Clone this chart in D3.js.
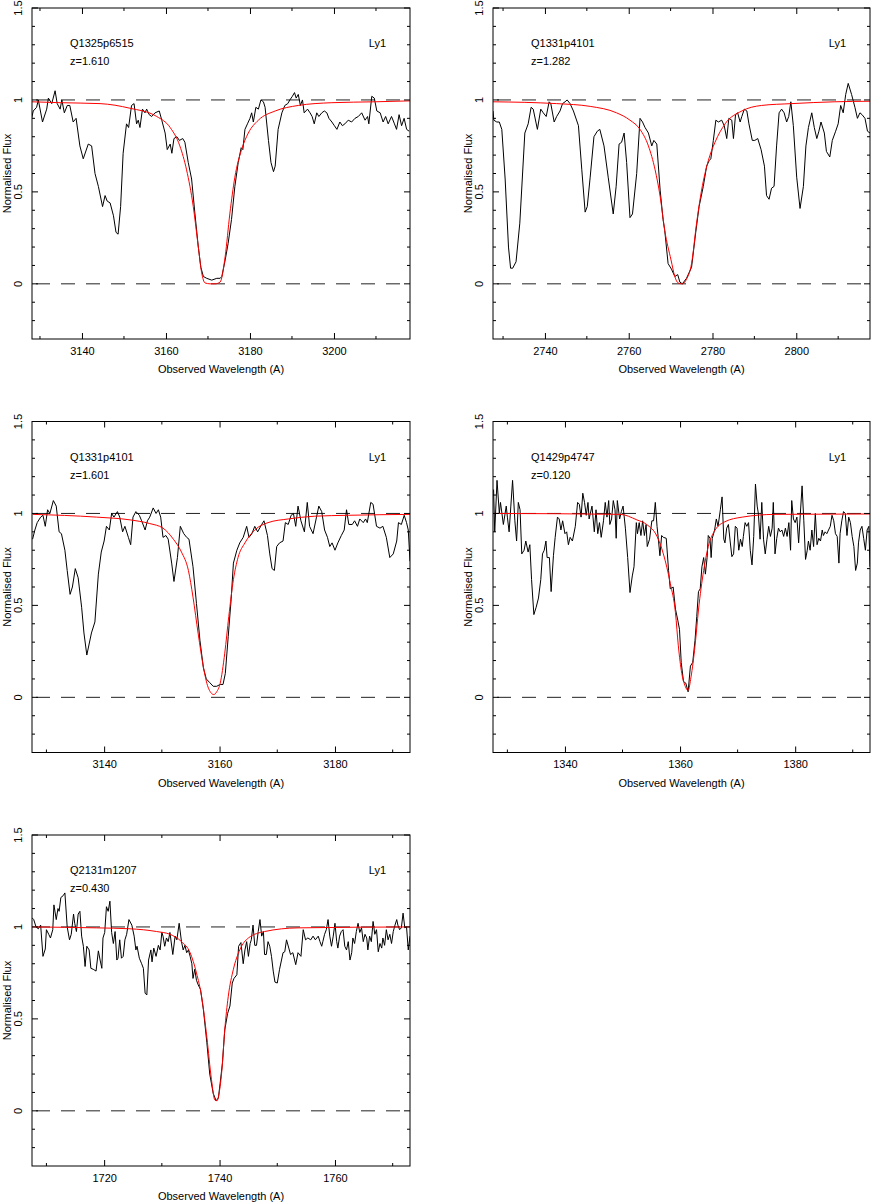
<!DOCTYPE html>
<html><head><meta charset="utf-8">
<script src="https://cdn.jsdelivr.net/npm/d3@7"></script>
<style>body{margin:0;background:#fff}svg{display:block}</style>
</head><body>
<svg id="c" width="872" height="1203"></svg>
<script>
// ---------- data ----------
const qsoNames = ["Q1325p6515","Q1331p4101","Q1331p4101","Q1429p4747","Q2131m1207"];
const redshifts = ["z=1.610","z=1.282","z=1.601","z=0.120","z=0.430"];
const lineLabels = ["Ly1","Ly1","Ly1","Ly1","Ly1"];
const xDomains = [[3128.1,3218.1],[2727.6,2817.6],[3127.5,3193.0],[1327.5,1393.0],[1707.5,1773.0]];
const xMajorTicks = [[3140,3160,3180,3200],[2740,2760,2780,2800],[3140,3160,3180],[1340,1360,1380],[1720,1740,1760]];
const xMinorTicks = [[3130,3150,3170,3190,3210],[2730,2750,2770,2790,2810],[3130,3150,3170,3190],[1330,1350,1370,1390],[1710,1730,1750,1770]];
const yDomain = [-0.3,1.5];
const yMajorTicks = [0,0.5,1,1.5];
const yMinorTicks = [-0.2,-0.1,0.1,0.2,0.3,0.4,0.6,0.7,0.8,0.9,1.1,1.2,1.3,1.4];
const refLevels = [0,1];

const spec1 = [[3128.0,0.90],[3128.4,0.94],[3129.2,0.96],[3129.6,1.00],[3130.6,0.88],[3131.6,0.95],[3132.0,1.01],[3132.8,0.98],[3133.6,1.05],[3134.1,0.98],[3134.8,0.95],[3135.2,1.00],[3135.8,0.93],[3136.5,0.97],[3137.1,0.97],[3137.9,0.88],[3138.6,0.90],[3139.5,0.75],[3140.3,0.68],[3141.5,0.76],[3142.3,0.75],[3143.1,0.60],[3143.9,0.53],[3144.9,0.42],[3145.5,0.48],[3146.0,0.45],[3146.7,0.44],[3147.5,0.37],[3148.1,0.28],[3148.6,0.27],[3149.2,0.42],[3149.8,0.71],[3150.6,0.87],[3151.1,0.85],[3151.8,0.97],[3152.4,0.98],[3153.0,0.87],[3153.4,0.89],[3153.8,0.85],[3154.4,0.95],[3155.0,0.93],[3155.4,0.95],[3156.0,0.92],[3156.6,0.91],[3157.4,0.93],[3158.4,0.94],[3159.0,0.89],[3159.8,0.82],[3160.3,0.73],[3161.0,0.76],[3161.4,0.71],[3161.9,0.79],[3162.6,0.80],[3163.2,0.78],[3164.0,0.79],[3164.5,0.77],[3165.3,0.66],[3166.1,0.57],[3166.9,0.38],[3167.7,0.20],[3168.3,0.09],[3168.9,0.04],[3169.7,0.03],[3170.9,0.02],[3172.1,0.03],[3172.9,0.03],[3173.3,0.04],[3174.1,0.13],[3174.8,0.22],[3175.6,0.35],[3176.4,0.53],[3177.2,0.66],[3177.9,0.74],[3178.3,0.73],[3178.8,0.84],[3179.4,0.87],[3180.0,0.90],[3180.4,0.93],[3180.8,0.88],[3181.4,0.96],[3182.0,0.95],[3182.6,1.00],[3183.2,0.99],[3183.6,0.96],[3184.4,0.78],[3185.0,0.66],[3185.6,0.61],[3186.0,0.64],[3186.7,0.84],[3187.6,0.93],[3188.3,0.97],[3189.0,0.98],[3189.5,1.00],[3190.1,1.02],[3190.6,1.04],[3191.0,1.01],[3191.5,1.03],[3192.0,0.97],[3192.5,1.00],[3192.9,0.93],[3193.7,0.95],[3194.3,0.93],[3194.8,0.91],[3195.3,0.87],[3195.9,0.93],[3196.4,0.91],[3197.1,0.93],[3197.7,0.94],[3198.3,0.93],[3198.8,0.90],[3199.5,0.88],[3200.1,0.86],[3200.7,0.84],[3201.4,0.88],[3202.0,0.86],[3202.6,0.87],[3203.4,0.89],[3204.2,0.88],[3205.0,0.90],[3205.8,0.91],[3206.6,0.93],[3207.4,0.89],[3208.0,0.91],[3208.3,0.87],[3209.0,1.02],[3209.6,1.01],[3210.2,0.94],[3211.0,0.93],[3211.7,0.88],[3212.3,0.91],[3212.9,0.87],[3213.7,0.91],[3214.4,0.87],[3214.9,0.84],[3215.5,0.92],[3216.1,0.86],[3216.7,0.90],[3217.3,0.84],[3217.9,0.83]];
const fit1 = [[3128.1,0.99],[3134.8,0.985],[3144.3,0.98],[3151.4,0.955],[3157.8,0.91],[3161.0,0.85],[3163.3,0.75],[3164.9,0.62],[3166.5,0.42],[3167.7,0.20],[3168.5,0.06],[3169.3,0.005],[3170.5,0.0],[3171.7,0.0],[3172.9,0.01],[3174.1,0.15],[3175.2,0.38],[3176.4,0.58],[3178.0,0.73],[3179.6,0.82],[3182.0,0.89],[3186.0,0.94],[3191.5,0.97],[3199.5,0.985],[3209.8,0.99],[3218.1,0.995]];

const spec2 = [[2727.6,0.94],[2727.8,0.89],[2728.5,0.88],[2729.1,0.88],[2729.7,0.84],[2730.5,0.57],[2731.3,0.20],[2731.8,0.085],[2732.3,0.085],[2733.1,0.12],[2734.0,0.33],[2735.2,0.82],[2736.0,0.87],[2736.7,0.96],[2737.2,0.95],[2738.2,0.84],[2739.0,0.95],[2739.6,0.93],[2740.3,0.91],[2741.0,0.99],[2741.4,0.98],[2742.2,0.88],[2742.8,0.91],[2743.6,0.94],[2744.2,0.98],[2744.8,0.99],[2745.3,1.00],[2746.0,0.98],[2746.8,0.94],[2748.0,0.86],[2748.8,0.62],[2749.6,0.39],[2750.1,0.42],[2750.8,0.58],[2751.7,0.80],[2752.5,0.83],[2753.1,0.84],[2754.1,0.75],[2755.1,0.58],[2756.3,0.38],[2757.0,0.53],[2757.7,0.76],[2758.3,0.77],[2758.9,0.82],[2759.5,0.66],[2760.3,0.36],[2760.9,0.38],[2761.9,0.60],[2762.7,0.90],[2763.3,0.88],[2763.9,0.85],[2764.7,0.82],[2765.5,0.75],[2766.0,0.78],[2766.7,0.76],[2767.5,0.51],[2768.2,0.35],[2768.6,0.29],[2769.4,0.11],[2770.2,0.08],[2771.0,0.04],[2771.7,0.05],[2772.2,0.01],[2772.8,0.0],[2773.8,0.03],[2775.0,0.09],[2776.0,0.28],[2776.8,0.42],[2777.8,0.53],[2778.6,0.64],[2779.2,0.67],[2779.6,0.68],[2780.2,0.78],[2780.8,0.89],[2781.4,0.88],[2782.2,0.89],[2782.8,0.86],[2783.4,0.79],[2783.9,0.90],[2784.6,0.89],[2785.0,0.79],[2785.5,0.92],[2786.0,0.93],[2786.6,0.88],[2787.0,0.91],[2787.6,0.95],[2788.2,0.94],[2788.7,0.87],[2789.5,0.78],[2790.1,0.78],[2790.8,0.79],[2791.6,0.73],[2792.4,0.64],[2792.9,0.48],[2793.5,0.46],[2794.1,0.52],[2794.7,0.53],[2795.3,0.75],[2795.9,0.93],[2796.5,0.95],[2797.1,0.93],[2797.7,0.88],[2798.2,0.91],[2798.7,0.99],[2799.3,0.86],[2800.1,0.58],[2800.9,0.41],[2801.7,0.53],[2802.3,0.75],[2802.9,0.85],[2803.7,0.93],[2804.3,0.85],[2804.9,0.79],[2805.4,0.83],[2805.9,0.88],[2806.7,0.82],[2807.2,0.72],[2808.0,0.69],[2808.6,0.78],[2809.4,0.83],[2810.0,0.87],[2810.6,0.97],[2811.2,0.93],[2811.8,1.03],[2812.4,1.09],[2813.2,1.03],[2814.0,0.96],[2814.6,0.90],[2815.2,0.93],[2815.7,0.92],[2816.4,0.90],[2817.0,0.83],[2817.6,0.82]];
const fit2 = [[2727.6,0.99],[2742.8,0.98],[2750.8,0.965],[2757.1,0.93],[2760.3,0.89],[2762.7,0.84],[2764.7,0.75],[2766.3,0.62],[2767.5,0.475],[2768.6,0.29],[2770.1,0.13],[2771.0,0.04],[2771.8,0.005],[2772.8,0.0],[2773.8,0.025],[2775.0,0.11],[2776.2,0.33],[2777.4,0.51],[2779.0,0.67],[2780.6,0.77],[2783.0,0.87],[2787.0,0.94],[2791.7,0.97],[2798.9,0.98],[2809.2,0.99],[2817.6,0.993]];

const spec3 = [[3127.6,0.86],[3128.0,0.91],[3128.4,0.95],[3129.0,0.98],[3129.4,0.99],[3129.8,0.93],[3130.2,1.02],[3130.6,1.00],[3131.2,1.07],[3131.7,1.04],[3132.2,0.90],[3132.6,0.89],[3133.2,0.80],[3133.6,0.69],[3134.1,0.56],[3134.5,0.60],[3135.0,0.70],[3135.5,0.65],[3136.1,0.49],[3136.5,0.35],[3137.0,0.23],[3137.4,0.29],[3137.8,0.35],[3138.4,0.41],[3139.0,0.67],[3139.5,0.79],[3140.0,0.85],[3140.4,0.93],[3140.9,0.91],[3141.3,1.00],[3141.7,0.98],[3142.3,1.01],[3142.7,0.98],[3143.2,0.90],[3143.6,0.93],[3144.2,0.87],[3144.6,0.83],[3145.0,0.98],[3145.5,1.01],[3146.1,0.99],[3146.5,0.96],[3147.1,0.91],[3147.5,0.96],[3147.9,0.98],[3148.5,1.03],[3149.0,1.00],[3149.4,1.02],[3149.8,0.98],[3150.2,0.87],[3150.7,0.88],[3151.1,0.86],[3151.7,0.73],[3152.1,0.63],[3152.7,0.76],[3153.2,0.93],[3153.8,0.89],[3154.3,0.87],[3154.7,0.86],[3155.4,0.71],[3156.0,0.51],[3156.6,0.31],[3157.2,0.16],[3157.7,0.10],[3158.3,0.08],[3158.9,0.06],[3159.5,0.06],[3160.1,0.07],[3160.6,0.07],[3161.0,0.13],[3161.5,0.33],[3162.0,0.53],[3162.4,0.73],[3163.0,0.80],[3163.5,0.84],[3164.1,0.87],[3164.7,0.93],[3165.1,0.87],[3165.6,0.89],[3166.1,0.93],[3166.6,0.90],[3167.3,0.94],[3167.7,0.96],[3168.3,0.88],[3168.7,0.78],[3169.1,0.70],[3169.5,0.69],[3169.9,0.82],[3170.4,0.84],[3171.0,0.85],[3171.4,0.95],[3171.9,0.94],[3172.4,0.99],[3172.8,1.00],[3173.2,0.93],[3173.6,1.04],[3174.1,0.96],[3174.7,0.90],[3175.2,1.06],[3175.6,0.93],[3176.2,0.89],[3176.8,0.98],[3177.2,1.04],[3177.7,1.01],[3178.2,0.91],[3178.7,0.87],[3179.1,0.82],[3179.5,0.84],[3180.0,0.80],[3180.5,0.84],[3181.1,0.88],[3181.6,0.91],[3182.0,1.02],[3182.4,0.94],[3183.0,0.94],[3183.4,0.96],[3183.9,0.93],[3184.3,0.97],[3184.9,0.95],[3185.3,0.97],[3185.6,0.95],[3186.2,1.06],[3186.6,1.05],[3187.2,0.93],[3187.8,0.92],[3188.3,0.93],[3188.9,0.87],[3189.5,0.76],[3190.1,0.78],[3190.7,0.85],[3191.0,0.95],[3191.5,0.94],[3192.0,0.99],[3192.4,0.95],[3192.7,0.91],[3193.0,0.74]];
const fit3 = [[3127.6,0.995],[3138.7,0.98],[3144.5,0.965],[3147.9,0.945],[3150.2,0.92],[3152.0,0.86],[3153.4,0.79],[3154.6,0.69],[3155.4,0.545],[3156.3,0.345],[3157.2,0.165],[3158.0,0.056],[3159.0,0.015],[3159.5,0.03],[3160.1,0.075],[3160.9,0.24],[3161.6,0.44],[3162.4,0.64],[3163.2,0.76],[3164.4,0.84],[3166.1,0.91],[3168.4,0.95],[3171.9,0.97],[3176.5,0.985],[3182.3,0.99],[3193.0,0.995]];

const spec4 = [[1327.6,1.13],[1327.8,0.90],[1328.2,1.18],[1328.6,1.00],[1328.8,1.06],[1329.3,0.94],[1329.8,1.04],[1330.0,0.98],[1330.3,0.90],[1330.6,1.04],[1330.9,1.18],[1331.3,0.96],[1331.6,0.85],[1331.9,1.06],[1332.2,1.02],[1332.5,0.78],[1332.9,0.80],[1333.2,0.85],[1333.6,0.79],[1333.9,0.83],[1334.2,0.64],[1334.6,0.45],[1335.0,0.49],[1335.4,0.54],[1335.8,0.64],[1336.1,0.78],[1336.4,0.80],[1336.7,0.85],[1336.9,0.76],[1337.3,0.76],[1337.6,0.575],[1338.0,0.77],[1338.3,0.87],[1338.7,0.98],[1339.0,0.97],[1339.3,0.91],[1339.6,0.96],[1340.0,0.89],[1340.3,0.90],[1340.6,0.83],[1340.9,0.87],[1341.3,0.85],[1341.8,0.93],[1342.2,1.06],[1342.5,1.05],[1342.8,0.98],[1343.1,1.11],[1343.4,1.06],[1343.7,0.99],[1344.0,1.06],[1344.2,0.97],[1344.7,1.04],[1345.1,0.90],[1345.4,1.02],[1345.7,0.89],[1346.0,0.95],[1346.3,0.87],[1346.7,0.96],[1347.0,1.06],[1347.3,0.98],[1347.6,1.07],[1347.8,0.94],[1348.1,0.97],[1348.4,1.07],[1348.7,1.02],[1348.9,0.865],[1349.1,1.07],[1349.5,0.97],[1349.8,1.01],[1350.1,1.04],[1350.5,0.92],[1350.9,0.76],[1351.3,0.57],[1351.7,0.66],[1352.0,0.71],[1352.4,0.95],[1352.6,0.89],[1352.9,0.95],[1353.2,0.88],[1353.5,0.96],[1353.8,0.88],[1354.1,0.94],[1354.3,0.82],[1354.7,0.86],[1355.1,0.96],[1355.4,0.96],[1355.7,1.06],[1356.0,0.93],[1356.2,0.87],[1356.5,0.77],[1356.8,0.88],[1357.1,0.87],[1357.6,0.865],[1358.0,0.69],[1358.3,0.59],[1358.8,0.60],[1359.2,0.48],[1359.6,0.42],[1359.9,0.37],[1360.2,0.19],[1360.6,0.086],[1361.0,0.077],[1361.4,0.03],[1361.8,0.17],[1362.2,0.19],[1362.6,0.31],[1362.9,0.44],[1363.2,0.575],[1363.5,0.59],[1363.8,0.71],[1364.1,0.76],[1364.4,0.67],[1364.7,0.76],[1364.9,0.88],[1365.2,0.865],[1365.4,0.76],[1365.6,0.865],[1366.0,0.91],[1366.3,0.97],[1366.6,0.93],[1367.0,1.02],[1367.3,1.09],[1367.6,0.86],[1367.8,0.84],[1368.1,0.92],[1368.4,0.94],[1368.7,0.85],[1369.0,0.765],[1369.3,0.78],[1369.6,0.93],[1369.9,0.92],[1370.2,0.80],[1370.5,0.86],[1370.8,0.82],[1371.0,0.875],[1371.3,0.95],[1371.6,0.93],[1371.9,0.95],[1372.2,0.80],[1372.5,0.72],[1372.8,0.875],[1373.1,1.16],[1373.4,1.04],[1373.6,1.00],[1373.9,0.86],[1374.2,1.06],[1374.5,0.86],[1374.8,0.78],[1375.1,0.86],[1375.4,0.93],[1375.7,0.875],[1376.0,0.92],[1376.2,1.06],[1376.5,0.78],[1376.8,0.865],[1377.1,0.92],[1377.4,0.90],[1377.7,0.91],[1378.0,0.875],[1378.3,0.92],[1378.6,0.875],[1378.9,0.95],[1379.2,0.80],[1379.4,1.07],[1379.7,0.97],[1380.0,0.95],[1380.3,0.98],[1380.6,0.84],[1380.9,1.00],[1381.2,1.15],[1381.5,0.96],[1381.8,0.75],[1382.1,0.80],[1382.3,0.85],[1382.6,0.80],[1382.9,0.91],[1383.2,0.82],[1383.5,1.00],[1383.8,0.83],[1384.1,0.865],[1384.4,0.85],[1384.7,0.91],[1384.9,0.88],[1385.2,0.90],[1385.5,0.89],[1385.8,0.91],[1386.1,0.93],[1386.4,0.99],[1386.7,0.96],[1387.0,0.89],[1387.3,0.875],[1387.6,0.73],[1387.8,0.89],[1388.1,0.96],[1388.4,1.01],[1388.7,1.00],[1389.0,0.88],[1389.3,0.98],[1389.6,0.95],[1389.9,0.875],[1390.2,0.82],[1390.5,0.69],[1390.8,0.73],[1391.0,0.84],[1391.3,0.91],[1391.6,0.93],[1391.9,0.865],[1392.2,0.80],[1392.5,0.91],[1392.8,0.93],[1393.0,0.71]];
const fit4 = [[1327.5,1.0],[1349.6,0.995],[1352.5,0.965],[1354.2,0.94],[1356.0,0.875],[1357.1,0.78],[1358.3,0.62],[1359.2,0.46],[1359.7,0.28],[1360.3,0.13],[1360.9,0.06],[1361.4,0.037],[1361.9,0.11],[1362.6,0.28],[1363.2,0.475],[1364.1,0.69],[1364.9,0.82],[1366.1,0.91],[1367.8,0.955],[1370.8,0.98],[1376.5,0.995],[1393.0,0.997]];

const spec5 = [[1707.5,1.05],[1707.8,1.04],[1708.2,1.00],[1708.6,0.99],[1709.0,1.01],[1709.4,0.84],[1709.8,0.88],[1710.0,0.985],[1710.4,0.96],[1710.7,0.94],[1711.1,0.985],[1711.3,1.12],[1711.7,1.04],[1712.0,1.10],[1712.2,1.085],[1712.5,1.16],[1712.9,1.17],[1713.2,1.185],[1713.6,1.00],[1714.0,0.93],[1714.3,0.96],[1714.7,1.07],[1714.9,1.02],[1715.2,0.975],[1715.5,1.07],[1715.8,1.085],[1716.1,0.95],[1716.4,0.895],[1716.7,0.785],[1717.0,0.895],[1717.4,0.875],[1717.7,0.775],[1718.1,0.77],[1718.6,0.76],[1719.0,0.87],[1719.3,0.82],[1719.6,0.775],[1719.8,0.94],[1720.1,0.97],[1720.4,1.11],[1720.7,1.085],[1721.0,1.14],[1721.3,0.97],[1721.6,0.91],[1721.9,0.975],[1722.2,0.82],[1722.4,0.83],[1722.7,0.93],[1723.0,0.83],[1723.3,0.84],[1723.6,0.93],[1723.9,0.96],[1724.3,1.04],[1724.8,1.01],[1725.2,0.95],[1725.5,0.875],[1725.7,0.895],[1726.1,0.83],[1726.5,0.80],[1726.8,0.775],[1727.1,0.64],[1727.4,0.63],[1727.7,0.82],[1728.1,0.875],[1728.3,0.81],[1728.6,0.885],[1729.0,0.84],[1729.4,0.90],[1729.7,0.875],[1730.0,0.97],[1730.2,0.95],[1730.5,0.895],[1730.8,0.94],[1731.1,0.92],[1731.4,0.97],[1731.9,0.85],[1732.3,0.95],[1732.6,0.93],[1733.0,1.02],[1733.4,0.92],[1733.7,0.875],[1734.0,0.90],[1734.3,0.86],[1734.6,0.875],[1734.9,0.84],[1735.2,0.80],[1735.4,0.72],[1735.7,0.77],[1736.0,0.71],[1736.3,0.685],[1736.7,0.66],[1737.2,0.55],[1737.8,0.37],[1738.3,0.20],[1738.9,0.095],[1739.4,0.055],[1739.8,0.07],[1740.1,0.15],[1740.5,0.26],[1740.9,0.44],[1741.4,0.53],[1741.8,0.57],[1742.2,0.695],[1742.5,0.72],[1743.0,0.74],[1743.3,0.895],[1743.7,0.915],[1744.1,0.80],[1744.4,0.875],[1744.7,0.92],[1745.0,0.84],[1745.3,0.91],[1745.5,0.93],[1745.8,1.01],[1746.1,0.90],[1746.4,0.90],[1746.7,0.975],[1747.0,1.04],[1747.3,0.95],[1747.6,0.975],[1747.8,0.85],[1748.1,0.85],[1748.4,0.92],[1748.7,0.895],[1749.0,0.84],[1749.3,0.76],[1749.6,0.70],[1750.0,0.695],[1750.4,0.77],[1751.0,0.86],[1751.3,0.865],[1751.6,0.93],[1752.0,0.885],[1752.3,0.85],[1752.7,0.86],[1753.2,0.795],[1753.6,0.86],[1754.1,0.84],[1754.5,0.985],[1754.9,0.93],[1755.3,0.94],[1755.8,0.93],[1756.2,0.95],[1756.6,0.93],[1757.1,0.95],[1757.4,0.92],[1757.7,0.895],[1757.9,0.92],[1758.2,0.96],[1758.5,0.985],[1758.8,1.04],[1759.1,0.95],[1759.4,0.895],[1759.7,0.95],[1760.0,1.02],[1760.3,0.92],[1760.5,0.885],[1760.8,0.95],[1761.1,0.975],[1761.4,0.985],[1761.7,0.895],[1762.0,0.875],[1762.3,0.92],[1762.6,0.82],[1762.9,0.86],[1763.1,0.94],[1763.4,0.91],[1763.7,0.975],[1764.0,1.02],[1764.3,0.97],[1764.6,0.995],[1764.9,0.92],[1765.2,0.96],[1765.5,0.94],[1765.7,0.875],[1766.0,0.95],[1766.3,0.92],[1766.6,1.03],[1766.9,0.96],[1767.2,0.985],[1767.5,0.865],[1767.8,0.91],[1768.1,0.885],[1768.3,0.94],[1768.6,0.90],[1768.9,0.985],[1769.2,0.93],[1769.5,0.96],[1769.8,0.91],[1770.1,0.975],[1770.4,1.01],[1770.7,1.04],[1770.9,1.01],[1771.2,0.985],[1771.5,0.995],[1771.8,1.075],[1772.1,0.995],[1772.4,1.00],[1772.7,0.875],[1773.0,0.95]];
const fit5 = [[1707.5,1.0],[1718.7,0.995],[1724.5,0.99],[1729.1,0.975],[1731.4,0.96],[1733.4,0.92],[1734.9,0.86],[1736.0,0.75],[1736.9,0.62],[1737.8,0.40],[1738.6,0.17],[1739.2,0.058],[1739.6,0.055],[1739.8,0.076],[1740.4,0.22],[1740.9,0.44],[1741.5,0.62],[1742.4,0.77],[1743.5,0.875],[1745.0,0.94],[1747.8,0.975],[1753.6,0.995],[1773.0,1.0]];

const spectra = [spec1,spec2,spec3,spec4,spec5];
const fits = [fit1,fit2,fit3,fit4,fit5];

// ---------- drawing ----------
const FONT = "'Liberation Sans', Arial, sans-serif";
const svg = d3.select('#c');
const colLeft = [32, 493], colRight = [410, 870];
const rowTop = [8, 421.5, 835], panelH = 331;

xDomains.forEach((dom, i) => {
  const col = i % 2, row = Math.floor(i / 2);
  const x0 = colLeft[col], x1 = colRight[col];
  const y0 = rowTop[row], y1 = y0 + panelH;
  const xs = d3.scaleLinear().domain(dom).range([x0, x1]);
  const ys = d3.scaleLinear().domain(yDomain).range([y1, y0]);
  const g = svg.append('g');

  const cid = 'clip' + i;
  svg.append('clipPath').attr('id', cid).append('rect')
    .attr('x', x0).attr('y', y0).attr('width', x1 - x0).attr('height', y1 - y0);

  // reference dashed lines
  g.selectAll('line.ref').data(refLevels).join('line')
    .attr('x1', x0).attr('x2', x1)
    .attr('y1', d => ys(d)).attr('y2', d => ys(d))
    .attr('stroke', '#222').attr('stroke-width', 1)
    .attr('stroke-dasharray', '14,11').attr('stroke-dashoffset', -4);

  const line = d3.line().x(d => xs(d[0])).y(d => ys(d[1]));
  g.append('path').datum(spectra[i]).attr('clip-path', `url(#${cid})`)
    .attr('d', line).attr('fill', 'none').attr('stroke', '#000').attr('stroke-width', 1)
    .attr('stroke-linejoin', 'round');
  const fline = d3.line().x(d => xs(d[0])).y(d => ys(d[1])).curve(d3.curveMonotoneX);
  g.append('path').datum(fits[i]).attr('clip-path', `url(#${cid})`)
    .attr('d', fline).attr('fill', 'none').attr('stroke', '#ff0000').attr('stroke-width', 1);

  // frame
  g.append('rect').attr('x', x0).attr('y', y0).attr('width', x1 - x0).attr('height', y1 - y0)
    .attr('fill', 'none').attr('stroke', '#000').attr('stroke-width', 1);

  // x ticks (bottom and top)
  const xb = d3.axisBottom(xs).tickValues(xMajorTicks[i]).tickSize(-6).tickSizeOuter(0).tickPadding(8).tickFormat(d3.format('d'));
  const axB = g.append('g').attr('transform', `translate(0,${y1})`).call(xb);
  axB.select('.domain').remove();
  axB.selectAll('text').attr('font-family', FONT).attr('font-size', 11).attr('fill', '#000');
  axB.selectAll('line').attr('stroke', '#000');
  const xt = d3.axisTop(xs).tickValues(xMajorTicks[i]).tickSize(-6).tickSizeOuter(0).tickFormat('');
  const axT = g.append('g').attr('transform', `translate(0,${y0})`).call(xt);
  axT.select('.domain').remove();
  axT.selectAll('line').attr('stroke', '#000');
  [[y1, -3], [y0, 3]].forEach(([yy, dl]) => {
    g.selectAll(null).data(xMinorTicks[i]).join('line')
      .attr('x1', d => xs(d)).attr('x2', d => xs(d))
      .attr('y1', yy).attr('y2', yy + dl).attr('stroke', '#000');
  });

  // y ticks left and right
  [[x0, 1], [x1, -1]].forEach(([xx, s]) => {
    g.selectAll(null).data(yMajorTicks).join('line')
      .attr('x1', xx).attr('x2', xx + s * 6)
      .attr('y1', d => ys(d)).attr('y2', d => ys(d)).attr('stroke', '#000');
    g.selectAll(null).data(yMinorTicks).join('line')
      .attr('x1', xx).attr('x2', xx + s * 3)
      .attr('y1', d => ys(d)).attr('y2', d => ys(d)).attr('stroke', '#000');
  });
  g.selectAll('text.ylab').data(yMajorTicks).join('text').attr('class', 'ylab')
    .attr('transform', d => `translate(${x0 - 10},${ys(d)}) rotate(-90)`)
    .attr('text-anchor', 'middle').attr('font-family', FONT).attr('font-size', 11)
    .text(d => d3.format('')(d));

  // axis titles
  g.append('text').attr('x', (x0 + x1) / 2).attr('y', y1 + 34)
    .attr('text-anchor', 'middle').attr('font-family', FONT).attr('font-size', 11)
    .text('Observed Wavelength (A)');
  g.append('text').attr('transform', `translate(${x0 - 21},${(y0 + y1) / 2}) rotate(-90)`)
    .attr('text-anchor', 'middle').attr('font-family', FONT).attr('font-size', 11)
    .text('Normalised Flux');

  // annotations
  g.append('text').attr('x', x0 + 38).attr('y', y0 + 39)
    .attr('font-family', FONT).attr('font-size', 11).text(qsoNames[i]);
  g.append('text').attr('x', x0 + 38).attr('y', y0 + 57)
    .attr('font-family', FONT).attr('font-size', 11).text(redshifts[i]);
  g.append('text').attr('x', x1 - 24).attr('y', y0 + 39).attr('text-anchor', 'end')
    .attr('font-family', FONT).attr('font-size', 11).text(lineLabels[i]);
});
</script>
</body></html>
